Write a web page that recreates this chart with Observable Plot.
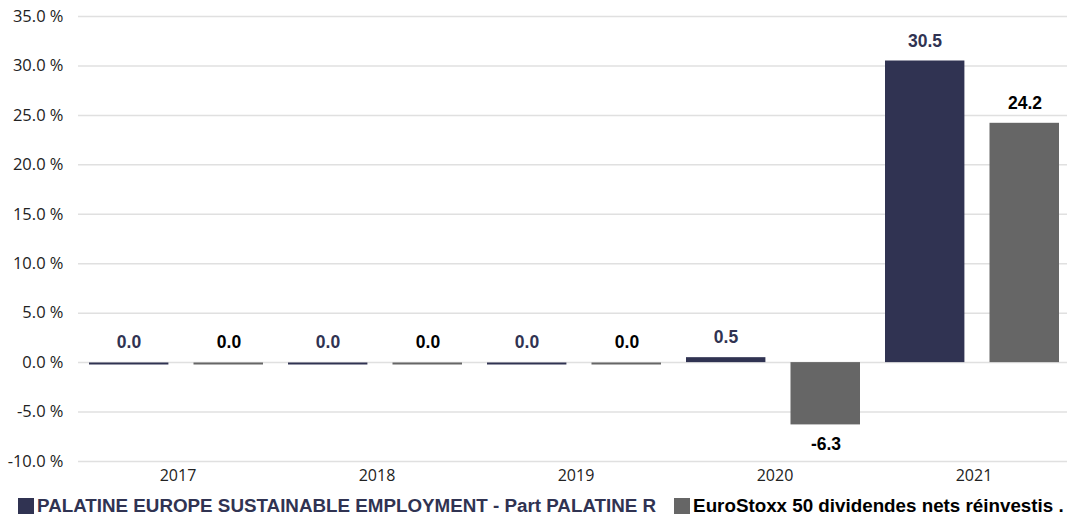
<!DOCTYPE html>
<html>
<head>
<meta charset="utf-8">
<script src="https://cdn.jsdelivr.net/npm/d3@7"></script>
<script src="https://cdn.jsdelivr.net/npm/@observablehq/plot@0.6"></script>
<style>
  html, body { margin: 0; padding: 0; background: #fff; }
  #chart { width: 1067px; overflow: hidden; }
  .legend { display: flex; align-items: center; height: 25px; padding-top: 3px; padding-left: 18px; font-family: "Liberation Sans", Arial, sans-serif; font-weight: bold; font-size: 18.8px; white-space: nowrap; }
  .legend .item { display: flex; align-items: center; }
  .legend .sw { width: 16px; height: 16px; margin-right: 3px; display: inline-block; }
</style>
</head>
<body>
<div id="chart"></div>
<script>
const years = ["2017", "2018", "2019", "2020", "2021"];
const fundValues = [0.0, 0.0, 0.0, 0.5, 30.5];
const indexValues = [0.0, 0.0, 0.0, -6.3, 24.2];
const seriesNames = [
  "PALATINE EUROPE SUSTAINABLE EMPLOYMENT - Part PALATINE R",
  "EuroStoxx 50 dividendes nets réinvestis ."
];
const seriesColors = ["#303352", "#666666"];
const labelColors = ["#303352", "#000000"];
const yTicks = [-10, -5, 0, 5, 10, 15, 20, 25, 30, 35];

const fundRows = years.map((year, i) => ({year, series: seriesNames[0], value: fundValues[i]}));
const indexRows = years.map((year, i) => ({year, series: seriesNames[1], value: indexValues[i]}));

const labelFont = {fontFamily: "Liberation Sans, Arial, sans-serif", fontWeight: "bold", fontSize: 17.5};

function seriesMarks(rows, k, insetL, insetR, dx) {
  return [
    Plot.barY(rows, {fx: "year", x: "series", y: "value", fill: seriesColors[k], insetLeft: insetL, insetRight: insetR}),
    Plot.tickY(rows.filter(d => d.value === 0), {fx: "year", x: "series", y: "value", stroke: seriesColors[k], strokeWidth: 2, dy: 1, insetLeft: insetL, insetRight: insetR}),
    Plot.text(rows.filter(d => d.value >= 0), {fx: "year", x: "series", y: "value", text: d => d.value.toFixed(1), fill: labelColors[k], dy: -20, dx, ...labelFont}),
    Plot.text(rows.filter(d => d.value < 0), {fx: "year", x: "series", y: "value", text: d => d.value.toFixed(1), fill: labelColors[k], dy: 19, dx, ...labelFont})
  ];
}

const chart = Plot.plot({
  width: 1067,
  height: 490,
  marginLeft: 77,
  marginRight: -6,
  marginTop: 16,
  marginBottom: 29,
  style: {fontFamily: "Open Sans, sans-serif", color: "#222", overflow: "hidden"},
  fx: {domain: years, padding: 0, label: null},
  x: {domain: seriesNames, padding: 0, axis: null},
  y: {domain: [-10, 35], label: null},
  marks: [
    Plot.ruleY(yTicks, {stroke: "#e0e0e0", strokeWidth: 1.5}),
    Plot.axisY(yTicks, {tickSize: 0, tickPadding: 15, line: true, stroke: "#d9d9d9", fill: "#222", tickFormat: d => d.toFixed(1) + " %", label: null, fontSize: 16.5, fontFamily: "Open Sans, sans-serif"}),
    Plot.axisFx({anchor: "bottom", tickSize: 0, tickPadding: 8, label: null, fill: "#222", fontSize: 16, fontFamily: "Open Sans, sans-serif"}),
    ...seriesMarks(fundRows, 0, 10, 9.6, 0),
    ...seriesMarks(indexRows, 1, 15.5, 14, 1)
  ]
});
document.getElementById("chart").appendChild(chart);

const legend = document.createElement("div");
legend.className = "legend";
seriesNames.forEach((name, k) => {
  const item = document.createElement("span");
  item.className = "item";
  if (k > 0) item.style.marginLeft = "18px";
  const sw = document.createElement("span");
  sw.className = "sw";
  sw.style.background = seriesColors[k];
  const t = document.createElement("span");
  t.textContent = name;
  t.style.color = labelColors[k];
  item.appendChild(sw);
  item.appendChild(t);
  legend.appendChild(item);
});
document.getElementById("chart").appendChild(legend);
</script>
</body>
</html>
